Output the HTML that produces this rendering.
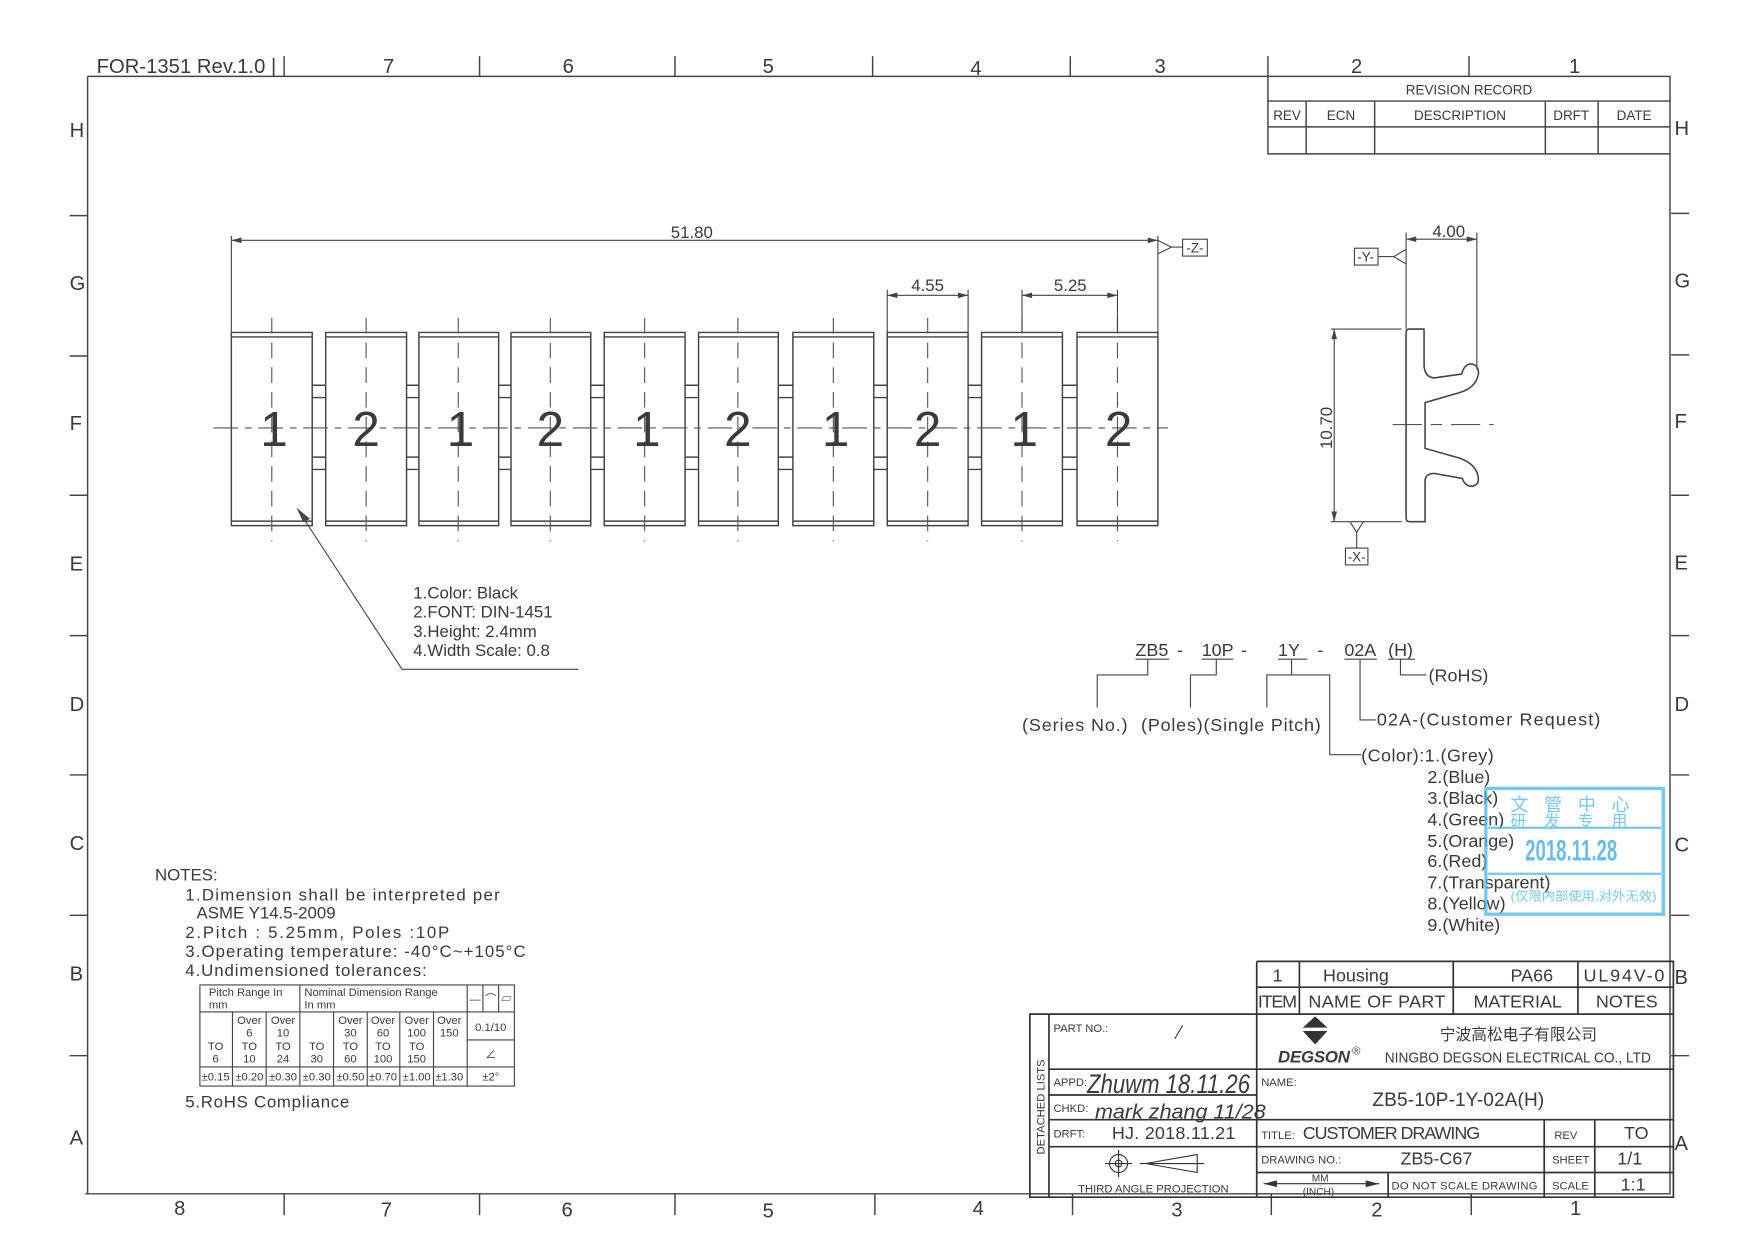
<!DOCTYPE html>
<html><head><meta charset="utf-8"><style>
html,body{margin:0;padding:0;background:#fff;}
svg{display:block;}
text{font-family:"Liberation Sans","Noto Sans CJK SC",sans-serif;fill:#3a3a3a;}
</style></head><body>
<svg width="1752" height="1241" viewBox="0 0 1560 1105" preserveAspectRatio="none" xmlns="http://www.w3.org/2000/svg">
<rect width="1560" height="1105" fill="#fff"/>
<g stroke="#444" stroke-width="1.3" fill="none">
<path d="M78,68 H1487 V1063 H76 M78,68 V1063"/>
<path d="M253,50V68 M427,50V68 M601,50V68 M777,50V68 M953,50V68 M1129,50V68 M1308,50V68"/>
<path d="M253,1063V1082 M427,1063V1082 M601,1063V1082 M779,1063V1082 M955,1063V1082 M1132,1063V1082 M1310,1063V1082"/>
<path d="M62,192H78 M62,317H78 M62,441H78 M62,566H78 M62,690H78 M62,815H78 M62,940H78"/>
<path d="M1488,190H1504 M1488,316H1504 M1488,441H1504 M1488,566H1504 M1488,690H1504 M1488,815H1504 M1488,940H1504"/>
<path d="M1129,68V137H1487 M1129,90H1487 M1129,113H1487 M1163,90V137 M1224,90V137 M1376,90V137 M1423,90V137"/>
</g>
<g font-size="18">
<text x="86" y="65" textLength="160">FOR-1351 Rev.1.0 |</text>
<text x="341" y="65">7</text><text x="501" y="65">6</text><text x="679" y="65">5</text><text x="864" y="67">4</text><text x="1028" y="65">3</text><text x="1203" y="65">2</text><text x="1397" y="65">1</text>
<text x="155" y="1082">8</text><text x="339" y="1083">7</text><text x="500" y="1083">6</text><text x="679" y="1084">5</text><text x="866" y="1082">4</text><text x="1043" y="1083">3</text><text x="1221" y="1083">2</text><text x="1398" y="1082">1</text>
<text x="62" y="122">H</text><text x="62" y="258">G</text><text x="62" y="383">F</text><text x="62" y="508">E</text><text x="62" y="633">D</text><text x="62" y="757">C</text><text x="62" y="873">B</text><text x="62" y="1019">A</text>
<text x="1491" y="120">H</text><text x="1491" y="256">G</text><text x="1491" y="381">F</text><text x="1491" y="507">E</text><text x="1491" y="633">D</text><text x="1491" y="758">C</text><text x="1491" y="876">B</text><text x="1491" y="1024">A</text>
</g>
<g font-size="12" text-anchor="middle">
<text x="1308" y="84">REVISION RECORD</text>
<text x="1146" y="107">REV</text><text x="1194" y="107">ECN</text><text x="1300" y="107">DESCRIPTION</text><text x="1399" y="107">DRFT</text><text x="1455" y="107">DATE</text>
</g>

<g stroke="#444" stroke-width="1.3" fill="none">
<path d="M206,296H278V468H206Z M206,300H278 M206,464H278"/>
<path d="M290,296H362V468H290Z M290,300H362 M290,464H362"/>
<path d="M373,296H444V468H373Z M373,300H444 M373,464H444"/>
<path d="M455,296H526V468H455Z M455,300H526 M455,464H526"/>
<path d="M538,296H610V468H538Z M538,300H610 M538,464H610"/>
<path d="M622,296H693V468H622Z M622,300H693 M622,464H693"/>
<path d="M706,296H778V468H706Z M706,300H778 M706,464H778"/>
<path d="M790,296H862V468H790Z M790,300H862 M790,464H862"/>
<path d="M874,296H946V468H874Z M874,300H946 M874,464H946"/>
<path d="M959,296H1031V468H959Z M959,300H1031 M959,464H1031"/>
<path d="M278,343H290 M278,354H290 M278,407H290 M278,418H290
M362,343H373 M362,354H373 M362,407H373 M362,418H373
M444,343H455 M444,354H455 M444,407H455 M444,418H455
M526,343H538 M526,354H538 M526,407H538 M526,418H538
M610,343H622 M610,354H622 M610,407H622 M610,418H622
M693,343H706 M693,354H706 M693,407H706 M693,418H706
M778,343H790 M778,354H790 M778,407H790 M778,418H790
M862,343H874 M862,354H874 M862,407H874 M862,418H874
M946,343H959 M946,354H959 M946,407H959 M946,418H959"/>
</g>
<g stroke="#555" stroke-width="1" stroke-dasharray="22,6,6,6" fill="none">
<path d="M190,381H1040"/>
<path d="M242,283V482 M326,283V482 M408,283V482 M490,283V482 M574,283V482 M657,283V482 M742,283V482 M826,283V482 M910,283V482 M995,283V482" stroke-dasharray="14,8"/>
<path d="M1240,378H1330" stroke-dasharray="26,8,10,8"/>
</g>
<g font-size="44" text-anchor="middle">
<text x="244" y="397">1</text><text x="326" y="397">2</text><text x="410" y="397">1</text><text x="490" y="397">2</text><text x="576" y="397">1</text><text x="657" y="397">2</text><text x="744" y="397">1</text><text x="826" y="397">2</text><text x="912" y="397">1</text><text x="996" y="397">2</text>
</g>
<g stroke="#444" stroke-width="1" fill="none">
<path d="M206,210V296 M1031,210V296 M206,214H1031"/>
<path d="M1031,214L1043,220L1031,226 M1043,220H1053"/>
<rect x="1053" y="213" width="22" height="15"/>
<path d="M790,258V296 M862,258V296 M790,263H862 M910,258V296 M995,258V296 M910,263H995"/>
<path d="M1252,207V293 M1315,207V329 M1252,213H1315"/>
<path d="M1227,228.5H1241 L1252,222 M1241,228.5L1252,235"/>
<rect x="1206" y="221" width="21" height="15"/>
<path d="M1185,293H1248 M1185,464.5H1248 M1188,293V464.5"/>
<path d="M1202,464.5L1208,474L1214,464.5 M1208,474V488"/>
<rect x="1198" y="488" width="20" height="15"/>
<path stroke-width="1.4" d="M1252,296 Q1252,293 1255,293 H1268 V326 Q1269,336 1277,336.5 L1301.5,333 Q1304,324 1310,324 Q1317,325 1316.4,333 Q1314,346 1298,350 L1268.9,358.5 V399.2 L1300,408 Q1316,414 1316.4,427 Q1316,433 1309,433 Q1304,432 1302,426 L1277,421.5 Q1269,422 1268.9,428 V464.5 H1255 Q1252,464.5 1252,461 Z"/>
</g>
<g fill="#444">
<path d="M206,214l9,-2.5v5z M1031,214l-9,-2.5v5z M790,263l9,-2.5v5z M862,263l-9,-2.5v5z M910,263l9,-2.5v5z M995,263l-9,-2.5v5z M1252,213l9,-2.5v5z M1315,213l-9,-2.5v5z M1188,293l-2.5,9h5z M1188,464.5l-2.5,-9h5z"/>
</g>
<g font-size="15" text-anchor="middle">
<text x="616" y="212">51.80</text><text x="826" y="259">4.55</text><text x="953" y="259">5.25</text><text x="1290" y="211">4.00</text>
<text x="1064" y="225" font-size="12">-Z-</text><text x="1216" y="233" font-size="12">-Y-</text><text x="1208" y="500" font-size="12">-X-</text>
<text transform="translate(1186,381) rotate(-90)">10.70</text>
</g>
<g stroke="#444" stroke-width="1" fill="none"><path d="M266,455L358,596H515"/></g>
<path d="M264,452l12,10l-6,3z" fill="#444"/>
<g font-size="15"><text x="368" y="533">1.Color: Black</text><text x="368" y="550">2.FONT: DIN-1451</text><text x="368" y="567">3.Height: 2.4mm</text><text x="368" y="584">4.Width  Scale: 0.8</text></g>

<g font-size="16">
<text x="1011" y="584">ZB5</text><text x="1048" y="584">-</text><text x="1070" y="584">10P</text><text x="1105" y="584">-</text><text x="1138" y="584">1Y</text><text x="1173" y="584">-</text><text x="1197" y="584">02A</text><text x="1236" y="584">(H)</text>
<text x="1272" y="607">(RoHS)</text>
<text x="910" y="651" textLength="94">(Series No.)</text><text x="1016" y="651" textLength="160">(Poles)(Single Pitch)</text>
<text x="1226" y="646" textLength="199">02A-(Customer Request)</text>
<text x="1212" y="678" textLength="118">(Color):1.(Grey)</text>
<text x="1271" y="697">2.(Blue)</text><text x="1271" y="716">3.(Black)</text><text x="1271" y="735">4.(Green)</text><text x="1271" y="754">5.(Orange)</text><text x="1271" y="772">6.(Red)</text><text x="1271" y="791">7.(Transparent)</text><text x="1271" y="810">8.(Yellow)</text><text x="1271" y="829">9.(White)</text>
</g>
<g stroke="#444" stroke-width="1" fill="none">
<path d="M1011,587H1041 M1070,587H1098 M1138,587H1164 M1197,587H1226 M1236,587H1260"/>
<path d="M1022,587V601H977V630 M1083,587V601H1060V630 M1150,587V601H1128V630 M1150,601H1184V672H1212 M1211,587V641H1225 M1247,587V601H1270"/>
</g>
<g opacity="0.75">
<rect x="1323" y="702" width="158" height="112" fill="none" stroke="#49b6e8" stroke-width="3"/>
<path d="M1325,737H1479 M1325,778H1479" stroke="#49b6e8" stroke-width="2"/>
<text x="1345" y="722" font-size="16" style="fill:#49b6e8" letter-spacing="14">文管中心</text>
<text x="1345" y="736" font-size="14" style="fill:#49b6e8" letter-spacing="16">研发专用</text>
<text x="1358" y="766" font-size="26" font-weight="bold" style="fill:#3aa8e0" textLength="82" lengthAdjust="spacingAndGlyphs">2018.11.28</text>
<text x="1345" y="802" font-size="11" style="fill:#49b6e8" textLength="130" lengthAdjust="spacingAndGlyphs">(仅限内部使用,对外无效)</text>
</g>

<g font-size="15">
<text x="138" y="784">NOTES:</text>
<text x="165" y="802" textLength="280">1.Dimension shall be interpreted per</text>
<text x="175" y="818">ASME Y14.5-2009</text>
<text x="165" y="835" textLength="235">2.Pitch :  5.25mm, Poles :10P</text>
<text x="165" y="852" textLength="303">3.Operating temperature: -40°C~+105°C</text>
<text x="165" y="869" textLength="215">4.Undimensioned tolerances:</text>
<text x="165" y="986" textLength="146">5.RoHS Compliance</text>
</g>
<g stroke="#444" stroke-width="1" fill="none">
<path d="M178,877H458V967H178Z M178,901H458 M178,950H458 M416,926H458"/>
<path d="M267,877V967 M416,877V967 M430,877V901 M444,877V901 M207,901V967 M237,901V967 M297,901V967 M327,901V967 M356,901V967 M386,901V967"/>
</g>
<g font-size="10" text-anchor="middle">
<text x="186" y="887" text-anchor="start">Pitch Range In</text><text x="186" y="898" text-anchor="start">mm</text>
<text x="271" y="887" text-anchor="start">Nominal Dimension Range</text><text x="271" y="898" text-anchor="start">In mm</text>
<text x="423" y="893">—</text><text x="437" y="893">⌒</text><text x="451" y="893">▱</text>
<text x="192" y="935">TO</text><text x="192" y="946">6</text>
<text x="222" y="912">Over</text><text x="222" y="923">6</text><text x="222" y="935">TO</text><text x="222" y="946">10</text>
<text x="252" y="912">Over</text><text x="252" y="923">10</text><text x="252" y="935">TO</text><text x="252" y="946">24</text>
<text x="282" y="935">TO</text><text x="282" y="946">30</text>
<text x="312" y="912">Over</text><text x="312" y="923">30</text><text x="312" y="935">TO</text><text x="312" y="946">60</text>
<text x="341" y="912">Over</text><text x="341" y="923">60</text><text x="341" y="935">TO</text><text x="341" y="946">100</text>
<text x="371" y="912">Over</text><text x="371" y="923">100</text><text x="371" y="935">TO</text><text x="371" y="946">150</text>
<text x="400" y="912">Over</text><text x="400" y="923">150</text>
<text x="437" y="918">0.1/10</text><text x="437" y="942">∠</text>
<text x="192" y="962">±0.15</text><text x="222" y="962">±0.20</text><text x="252" y="962">±0.30</text><text x="282" y="962">±0.30</text><text x="312" y="962">±0.50</text><text x="341" y="962">±0.70</text><text x="371" y="962">±1.00</text><text x="400" y="962">±1.30</text><text x="437" y="962">±2°</text>
</g>

<g stroke="#333" stroke-width="1.5" fill="none">
<path d="M1119,856H1490V1066H917V903H1490 M1119,879H1490 M1157,856V903 M1294,856V903 M1405,856V903"/>
<path d="M1119,856V1066 M934,903V1066 M934,952H1119 M934,975H1119 M934,997H1119 M934,1021H1119"/>
<path d="M1119,952H1490 M1119,997H1490 M1119,1021H1490 M1119,1044H1490 M1375,997V1066 M1420,997V1066 M1236,1044V1066"/>
</g>
<g font-size="16">
<text x="1133" y="874">1</text><text x="1178" y="874">Housing</text><text x="1345" y="874">PA66</text><text x="1410" y="874" textLength="72">UL94V-0</text>
<text x="1120" y="897" textLength="35">ITEM</text><text x="1165" y="897" textLength="122">NAME OF PART</text><text x="1312" y="897">MATERIAL</text><text x="1421" y="897">NOTES</text>
<text x="1160" y="1014" textLength="158">CUSTOMER DRAWING</text><text x="1446" y="1014">TO</text>
<text x="1247" y="1037">ZB5-C67</text><text x="1440" y="1037">1/1</text><text x="1443" y="1060">1:1</text>
<text x="990" y="1014" textLength="110">HJ. 2018.11.21</text>
<text x="1222" y="985" font-size="17" textLength="153">ZB5-10P-1Y-02A(H)</text>
<text x="1282" y="926" font-size="14" textLength="140">宁波高松电子有限公司</text>
<text x="1233" y="946" font-size="13" textLength="237" lengthAdjust="spacingAndGlyphs">NINGBO DEGSON ELECTRICAL CO., LTD</text>
<text x="1138" y="946" font-size="15" font-weight="bold" font-style="italic" textLength="64">DEGSON</text><text x="1204" y="939" font-size="10">®</text>
</g>
<g font-size="10">
<text x="938" y="919">PART NO.:</text><text x="938" y="967">APPD:</text><text x="938" y="990">CHKD:</text><text x="938" y="1013">DRFT:</text>
<text x="1123" y="967">NAME:</text><text x="1123" y="1014">TITLE:</text><text x="1123" y="1036">DRAWING NO.:</text>
<text x="1384" y="1014">REV</text><text x="1382" y="1036">SHEET</text><text x="1382" y="1059">SCALE</text>
<text x="1239" y="1059" textLength="130">DO NOT SCALE DRAWING</text>
<text x="960" y="1062" textLength="134">THIRD ANGLE PROJECTION</text>
<text x="1168" y="1052" font-size="9">MM</text><text x="1160" y="1064" font-size="9">(INCH)</text>
<text transform="translate(930,1028) rotate(-90)" font-size="10">DETACHED LISTS</text>
</g>
<path d="M1160,915L1171,905L1182,915Z M1160,918H1182L1171,930Z" fill="#333"/>
<g stroke="#333" stroke-width="1" fill="none">
<path d="M1046,925L1053,913"/>
<circle cx="996" cy="1036" r="8"/><circle cx="996" cy="1036" r="3"/><path d="M984,1036H1008 M996,1024V1048"/>
<path d="M1020,1036L1066,1028V1044Z M1015,1036H1072" />
<path d="M1125,1054H1228"/>
</g>
<path d="M1125,1054l12,-3v6z M1228,1054l-12,-3v6z" fill="#333"/>
<g font-family="Liberation Serif" font-style="italic">
<text x="968" y="973" font-size="24" textLength="145" lengthAdjust="spacingAndGlyphs">Zhuwm 18.11.26</text>
<text x="975" y="996" font-size="18" textLength="152" lengthAdjust="spacingAndGlyphs">mark zhang 11/28</text>
</g>
</svg>
</body></html>
